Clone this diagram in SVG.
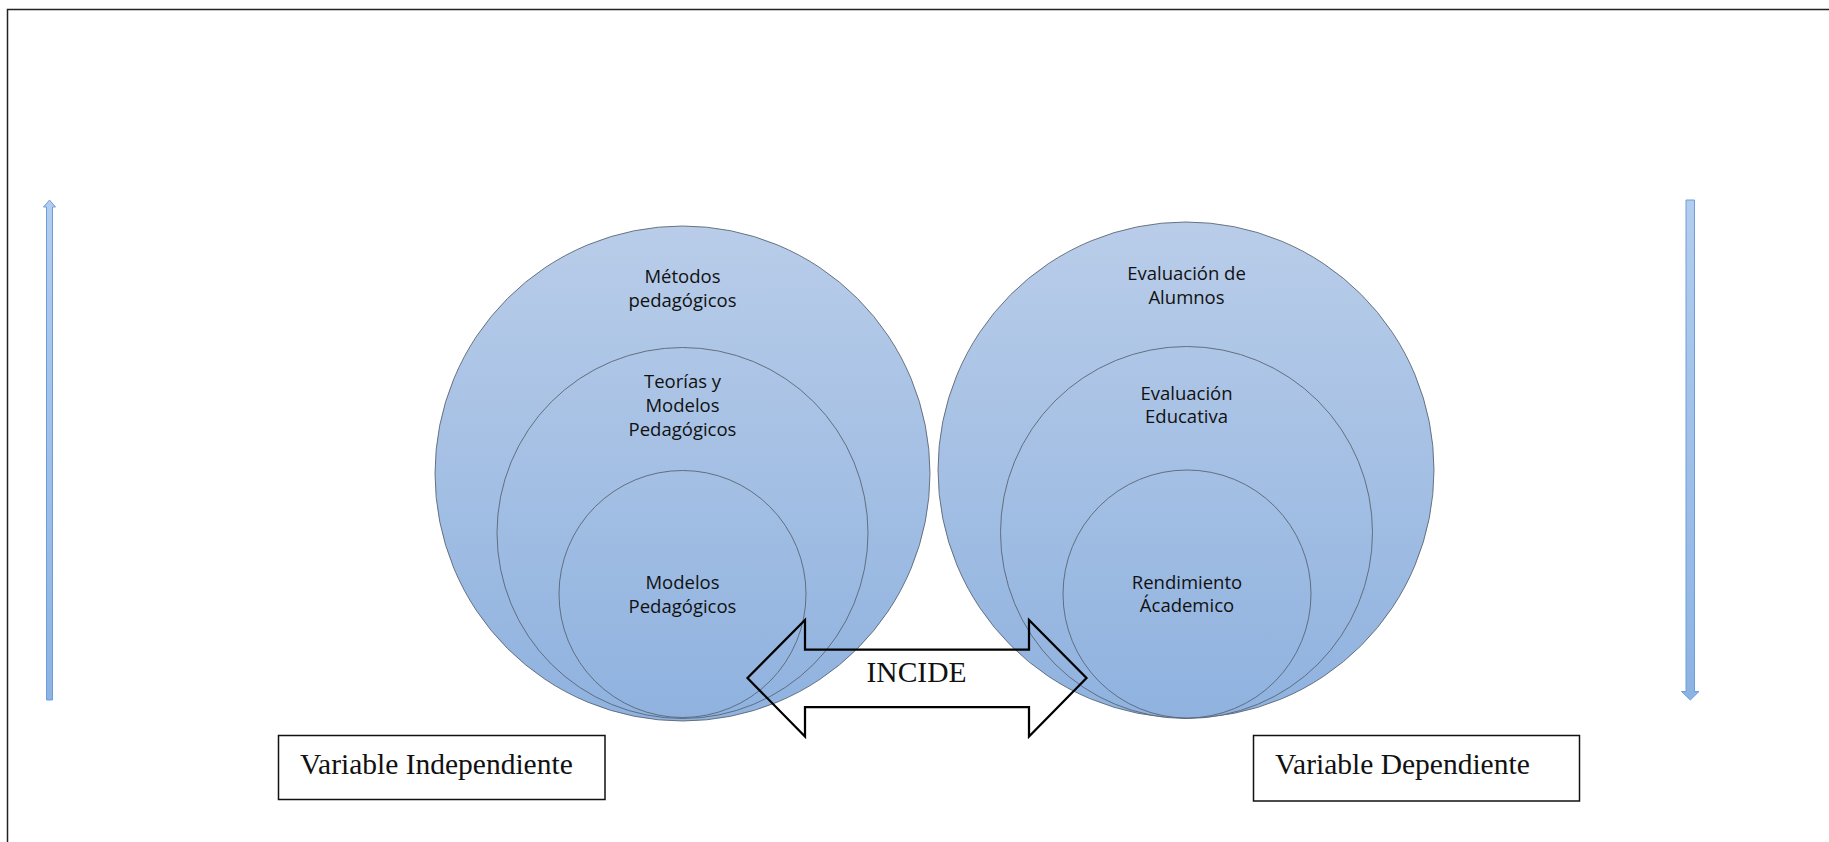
<svg xmlns="http://www.w3.org/2000/svg" width="1829" height="842" viewBox="0 0 1829 842">
<defs>
<linearGradient id="gL" gradientUnits="userSpaceOnUse" x1="0" y1="222" x2="0" y2="722">
<stop offset="0" stop-color="#b9cde9"/>
<stop offset="1" stop-color="#8fb2df"/>
</linearGradient>
<linearGradient id="gA" x1="0" y1="0" x2="0" y2="1">
<stop offset="0" stop-color="#b3cdee"/>
<stop offset="1" stop-color="#8db3e3"/>
</linearGradient>
<style>
.c{fill:url(#gL);stroke:#56606e;stroke-width:1;stroke-opacity:0.85}
.t{font-family:"Open Sans","Liberation Sans",sans-serif;font-size:18.5px;fill:#111;text-anchor:middle}
.s{font-family:"Liberation Serif","Times New Roman",serif;font-size:29.5px;fill:#111}
.b{fill:#fff;stroke:#111;stroke-width:1.5}
.va{fill:url(#gA);stroke:#6b9edb;stroke-width:1}
</style>
</defs>
<rect width="1829" height="842" fill="#fff"/>
<rect x="7.5" y="9.5" width="1900" height="900" fill="none" stroke="#222" stroke-width="1.5"/>

<g id="left-outer"><circle class="c" cx="682.5" cy="473.5" r="247.5"/><text class="t" x="682.5" y="283">Métodos</text><text class="t" x="682.5" y="307">pedagógicos</text></g>
<g id="left-middle"><circle class="c" cx="682.5" cy="533" r="185.5"/><text class="t" x="682.5" y="388">Teorías y</text><text class="t" x="682.5" y="412">Modelos</text><text class="t" x="682.5" y="435.5">Pedagógicos</text></g>
<g id="left-inner"><circle class="c" cx="682.5" cy="594" r="123.5"/><text class="t" x="682.5" y="589">Modelos</text><text class="t" x="682.5" y="612.5">Pedagógicos</text></g>

<g id="right-outer"><circle class="c" cx="1186" cy="470" r="248"/><text class="t" x="1186.5" y="280">Evaluación de</text><text class="t" x="1186.5" y="304">Alumnos</text></g>
<g id="right-middle"><circle class="c" cx="1186.5" cy="532.5" r="186"/><text class="t" x="1186.5" y="400">Evaluación</text><text class="t" x="1186.5" y="423">Educativa</text></g>
<g id="right-inner"><circle class="c" cx="1187" cy="594" r="124"/><text class="t" x="1187" y="589">Rendimiento</text><text class="t" x="1187" y="612">Ácademico</text></g>

<g id="connectors">
<path id="incide-arrow" d="M747.5,678 L805,620 L805,649.5 L1029,649.5 L1029,620 L1086.5,678 L1029,736.5 L1029,707 L805,707 L805,736.5 Z" fill="none" stroke="#000" stroke-width="2.25" stroke-linejoin="miter"/>
<path id="arrow-up" class="va" d="M49.5,200 L55.5,207 L52.5,207 L52.5,700 L46.5,700 L46.5,207 L43.5,207 Z"/>
<path id="arrow-down" class="va" d="M1686,200 L1694.5,200 L1694.5,691.5 L1699,691.5 L1690.3,700 L1681.5,691.5 L1686,691.5 Z"/>
</g>
<g id="incide-label"><text class="s" x="916.5" y="681.5" text-anchor="middle">INCIDE</text></g>

<g id="var-independiente"><rect class="b" x="278.5" y="735.5" width="326.5" height="64"/><text class="s" x="300" y="774">Variable Independiente</text></g>
<g id="var-dependiente"><rect class="b" x="1253.5" y="735.5" width="326" height="65.5"/><text class="s" x="1275" y="774">Variable Dependiente</text></g>
</svg>
